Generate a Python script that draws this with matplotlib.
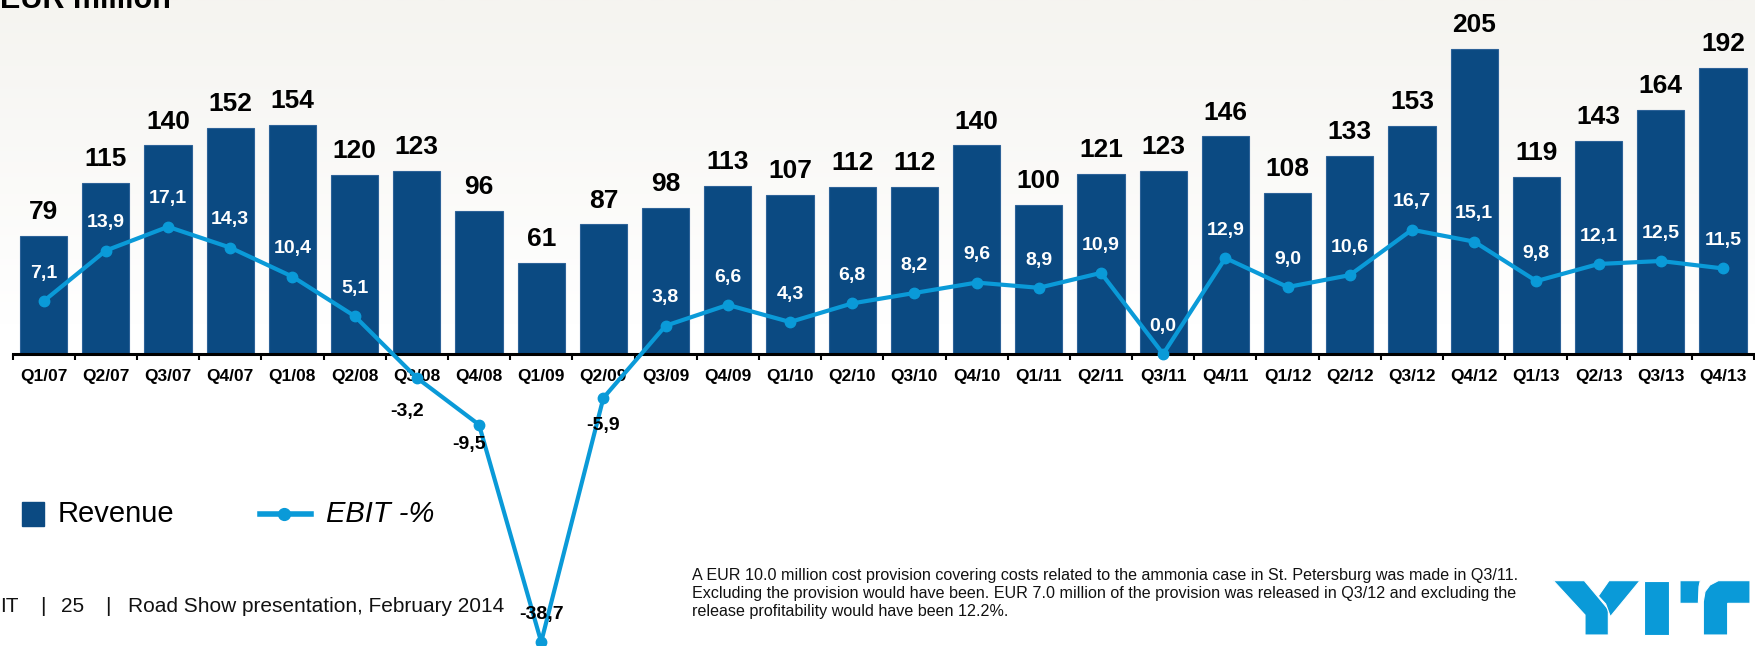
import numpy as np
import matplotlib
matplotlib.use("Agg")
from matplotlib import pyplot as plt
from matplotlib.patches import Rectangle, Polygon
from matplotlib.lines import Line2D

plt.rcParams["font.family"] = ["Liberation Sans", "DejaVu Sans"]

# data
quarters = [
    "Q1/07", "Q2/07", "Q3/07", "Q4/07", "Q1/08", "Q2/08", "Q3/08", "Q4/08",
    "Q1/09", "Q2/09", "Q3/09", "Q4/09", "Q1/10", "Q2/10", "Q3/10", "Q4/10",
    "Q1/11", "Q2/11", "Q3/11", "Q4/11", "Q1/12", "Q2/12", "Q3/12", "Q4/12",
    "Q1/13", "Q2/13", "Q3/13", "Q4/13",
]
revenue = [79, 115, 140, 152, 154, 120, 123, 96, 61, 87, 98, 113, 107, 112,
           112, 140, 100, 121, 123, 146, 108, 133, 153, 205, 119, 143, 164, 192]
ebit_pct = [7.1, 13.9, 17.1, 14.3, 10.4, 5.1, -3.2, -9.5, -38.7, -5.9, 3.8,
            6.6, 4.3, 6.8, 8.2, 9.6, 8.9, 10.9, 0.0, 12.9, 9.0, 10.6, 16.7,
            15.1, 9.8, 12.1, 12.5, 11.5]

note_lines = [
    "A EUR 10.0 million cost provision covering costs related to the ammonia case in St. Petersburg was made in Q3/11.",
    "Excluding the provision would have been. EUR 7.0 million of the provision was released in Q3/12 and excluding the",
    "release profitability would have been 12.2%.",
]

BAR_COLOR = "#0b4a82"
LINE_COLOR = "#0a9ad8"
W, H = 1755, 646

fig = plt.figure(figsize=(W / 100, H / 100), dpi=100)

# background with a faint gradient at the top
bg = fig.add_axes([0, 0, 1, 1])
grad = np.linspace(0, 1, 256).reshape(-1, 1)
bg.imshow(grad, extent=[0, 1, 0, 1], aspect="auto",
          cmap=matplotlib.colors.LinearSegmentedColormap.from_list(
              "bg", ["#ffffff", "#ffffff", "#f5f4f0"]), origin="lower")
bg.set_axis_off()

# main axes: pixel layout -> category centres at 43.6 + 62.2 * i, baseline 354 px from top
x = np.arange(len(quarters))
ax = fig.add_axes([0, 0, 1, 1])
ax.set_facecolor("none")
ax.set_xlim(-43.6 / 62.2, (W - 43.6) / 62.2)
ax.set_ylim(-(H - 354) / 1.49, 354 / 1.49)

ax.bar(x, revenue, width=0.76, color=BAR_COLOR, edgecolor="#2d6298",
       linewidth=0.8, zorder=2)
for xi, v in zip(x, revenue):
    ax.annotate(f"{v}", (xi, v), xytext=(0, 8.5), textcoords="offset points",
                ha="center", va="bottom", fontsize=19, fontweight="bold",
                color="black")

for s in ["top", "left", "right"]:
    ax.spines[s].set_visible(False)
ax.spines["bottom"].set_position(("data", 0))
ax.spines["bottom"].set_bounds(-0.5, len(quarters) - 0.5)
ax.spines["bottom"].set_linewidth(2.2)
ax.spines["bottom"].set_zorder(3)
ax.set_yticks([])
ax.set_xticks(x)
ax.set_xticklabels(quarters, fontsize=12.5, fontweight="bold")
ax.set_xticks(np.arange(len(quarters) + 1) - 0.5, minor=True)
ax.tick_params(axis="x", which="major", length=0, pad=11)
ax.tick_params(axis="x", which="minor", length=4.5, width=1.5, direction="out")

# EBIT line on its own scale, sharing the zero line
ax2 = ax.twinx()
ax2.set_ylim(-(H - 354) / 7.44, 354 / 7.44)
ax2.set_axis_off()
ax2.plot(x, ebit_pct, color=LINE_COLOR, lw=3, marker="o", markersize=7.5,
         clip_on=False, zorder=4)

# label offsets in points (dx, dy) where the default (above) does not fit
special = {6: (-7, -24), 7: (-7, -14), 8: (0, 20), 9: (0, -20)}
for i, v in enumerate(ebit_pct):
    dx, dy = special.get(i, (0, 20))
    col = "black" if v < 0 else "white"
    ax2.annotate(f"{v:.1f}".replace(".", ","), (i, v), xytext=(dx, dy),
                 textcoords="offset points", ha="center", va="center",
                 fontsize=14, fontweight="bold", color=col, zorder=5,
                 annotation_clip=False)

# overlay in pixel coordinates for slide furniture
ov = fig.add_axes([0, 0, 1, 1])
ov.set_xlim(0, W)
ov.set_ylim(H, 0)
ov.set_axis_off()
ov.patch.set_alpha(0)

ov.text(0, 8, "EUR million", fontsize=22, fontweight="bold", va="baseline",
        ha="left")

# legend
ov.add_patch(Rectangle((22, 502), 22, 24, color=BAR_COLOR))
ov.text(58, 514, "Revenue", fontsize=21, va="center", ha="left")
ov.add_line(Line2D([260, 311], [514, 514], color=LINE_COLOR, lw=4))
ov.add_line(Line2D([284], [514], color=LINE_COLOR, marker="o", markersize=8.5))
ov.text(326, 514, "EBIT -%", fontsize=21, style="italic", va="center",
        ha="left")

# footer
for xp, t in [(0, "IT"), (40, "|"), (61, "25"), (105, "|"),
              (128, "Road Show presentation, February 2014")]:
    ov.text(xp, 606, t, fontsize=15, va="center", ha="left", color="#111111")

for k, line in enumerate(note_lines):
    ov.text(692, 580 + 18 * k, line, fontsize=11.6, va="baseline", ha="left",
            color="#111111")

# YIT logo drawn as shapes
ox, oy = 1545, 570
def lp(pts):
    return [(ox + px / 3, oy + py / 3) for px, py in pts]

logo = [
    [(25, 32), (118, 32), (190, 118), (190, 195), (120, 195), (120, 135)],
    [(192, 32), (285, 32), (196, 140), (182, 102), (160, 78)],
    [(298, 32), (372, 32), (372, 195), (298, 195)],
    [(405, 32), (466, 32), (462, 50), (460, 100), (405, 100)],
    [(475, 195), (475, 95), (480, 65), (495, 45), (520, 32), (615, 32),
     (615, 100), (548, 100), (548, 195)],
]
for pts in logo:
    ov.add_patch(Polygon(lp(pts), closed=True, facecolor=LINE_COLOR,
                         edgecolor="white", lw=0.8))

fig.savefig("out.png", dpi=100)
